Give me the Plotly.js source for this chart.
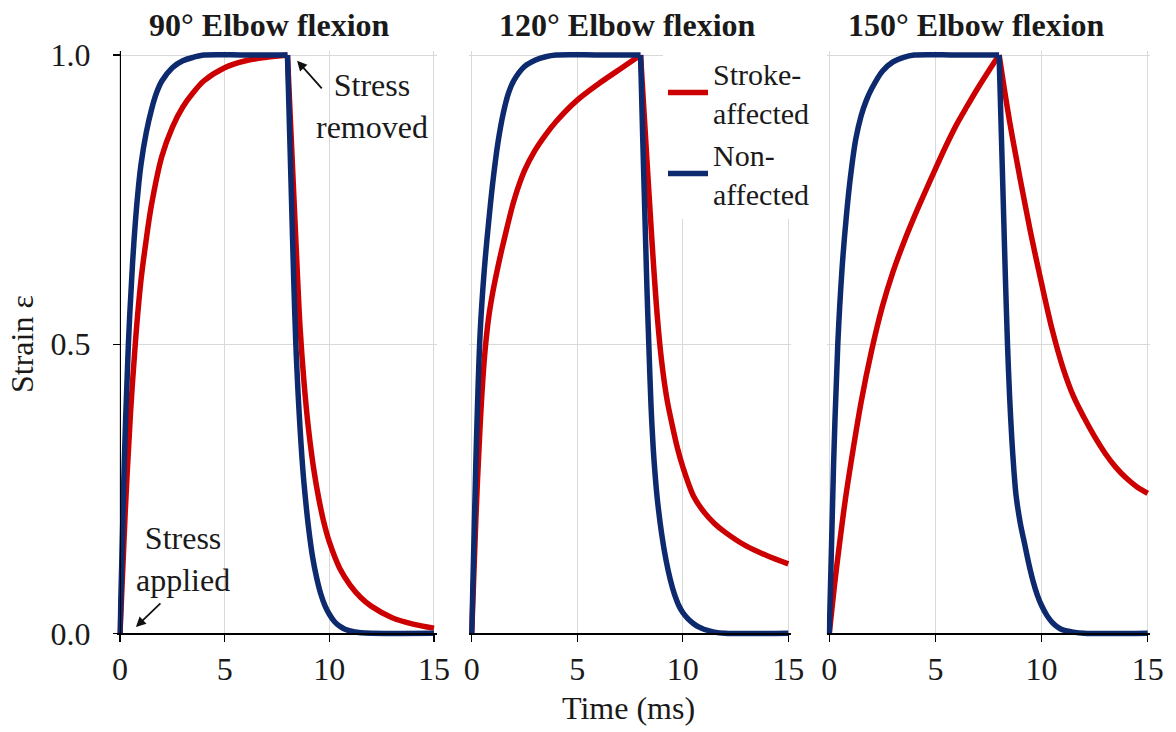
<!DOCTYPE html>
<html>
<head>
<meta charset="utf-8">
<script src="https://cdn.plot.ly/plotly-3.0.1.min.js"></script>
<style>html,body{margin:0;padding:0;background:#fff;}#chart{width:1176px;height:732px;}</style>
</head>
<body>
<div id="chart"></div>
<script>
// ---------------- DATA ----------------
const panelTitles = ['90° Elbow flexion', '120° Elbow flexion', '150° Elbow flexion'];
const seriesNames = ['Stroke-<br>affected', 'Non-<br>affected'];
const xTickVals = [0, 5, 10, 15];
const yTickVals = [0, 0.5, 1];
const yTickText = ['0.0', '0.5', '1.0'];
const stressOff = 8; // ms, stress removed

// 90° panel
const t90Stroke = [0, 0.25, 0.5, 0.75, 1.0, 1.25, 1.5, 2.0, 2.5, 3.0, 3.5, 4.0, 5.0, 6.0, 7.0, 8.0,
                   8.2, 8.4, 8.6, 8.8, 9.0, 9.25, 9.5, 9.75, 10.0, 10.5, 11.0, 11.5, 12.0, 13.0, 14.0, 15.0];
const v90Stroke = [0, 0.21, 0.38, 0.51, 0.61, 0.68, 0.74, 0.825, 0.875, 0.91, 0.935, 0.955, 0.978, 0.99, 0.996, 1.0,
                   0.84, 0.68, 0.53, 0.43, 0.355, 0.285, 0.232, 0.19, 0.158, 0.112, 0.083, 0.062, 0.047, 0.027, 0.016, 0.009];
const t90Non = [0, 0.2, 0.4, 0.6, 0.8, 1.0, 1.25, 1.5, 1.75, 2.0, 2.5, 3.0, 3.5, 4.0, 6.0, 8.0,
                8.1, 8.2, 8.3, 8.4, 8.5, 8.6, 8.7, 8.8, 9.0, 9.2, 9.4, 9.6, 9.8, 10.0, 10.25, 10.5, 10.75, 11.0, 11.5, 12.0, 15.0];
const v90Non = [0, 0.29, 0.5, 0.64, 0.74, 0.81, 0.865, 0.905, 0.935, 0.955, 0.978, 0.99, 0.996, 1.0, 1.0, 1.0,
                0.87, 0.74, 0.61, 0.5, 0.42, 0.355, 0.3, 0.255, 0.185, 0.132, 0.095, 0.067, 0.047, 0.033, 0.02, 0.012, 0.007, 0.004, 0.001, 0, 0];

// 120° panel
const t120Stroke = [0, 0.2, 0.4, 0.6, 0.8, 1.0, 1.25, 1.5, 2.0, 2.5, 3.0, 3.5, 4.0, 5.0, 6.0, 7.0, 8.0,
                    8.2, 8.4, 8.6, 8.8, 9.0, 9.25, 9.5, 9.75, 10.0, 10.5, 11.0, 11.5, 12.0, 13.0, 14.0, 15.0];
const v120Stroke = [0, 0.2, 0.36, 0.475, 0.545, 0.59, 0.635, 0.675, 0.748, 0.8, 0.835, 0.862, 0.885, 0.922, 0.95, 0.975, 1.0,
                    0.88, 0.76, 0.645, 0.545, 0.47, 0.405, 0.36, 0.32, 0.288, 0.238, 0.21, 0.19, 0.175, 0.151, 0.134, 0.12];
const t120Non = [0, 0.2, 0.4, 0.6, 0.8, 1.0, 1.25, 1.5, 1.75, 2.0, 2.5, 3.0, 3.5, 4.0, 6.0, 8.0,
                 8.1, 8.2, 8.3, 8.4, 8.5, 8.6, 8.7, 8.8, 9.0, 9.2, 9.4, 9.6, 9.8, 10.0, 10.25, 10.5, 10.75, 11.0, 11.5, 12.0, 15.0];
const v120Non = [0, 0.3, 0.52, 0.63, 0.71, 0.78, 0.85, 0.9, 0.935, 0.956, 0.98, 0.991, 0.997, 1.0, 1.0, 1.0,
                 0.86, 0.73, 0.6, 0.49, 0.39, 0.32, 0.27, 0.23, 0.172, 0.128, 0.094, 0.068, 0.049, 0.036, 0.025, 0.017, 0.011, 0.007, 0.002, 0, 0];

// 150° panel
const t150Stroke = [0, 0.25, 0.5, 0.75, 1.0, 1.5, 2.0, 2.5, 3.0, 3.5, 4.0, 4.5, 5.0, 5.5, 6.0, 6.5, 7.0, 7.5, 8.0,
                    8.25, 8.5, 8.75, 9.0, 9.5, 10.0, 10.5, 11.0, 11.5, 12.0, 12.5, 13.0, 13.5, 14.0, 14.5, 15.0];
const v150Stroke = [0, 0.085, 0.16, 0.23, 0.29, 0.4, 0.49, 0.565, 0.625, 0.675, 0.72, 0.762, 0.803, 0.843, 0.88, 0.912, 0.943, 0.972, 1.0,
                    0.94, 0.884, 0.833, 0.784, 0.69, 0.605, 0.525, 0.46, 0.41, 0.373, 0.34, 0.311, 0.287, 0.268, 0.253, 0.242];
const t150Non = [0, 0.2, 0.4, 0.6, 0.8, 1.0, 1.25, 1.5, 1.75, 2.0, 2.5, 3.0, 3.5, 4.0, 6.0, 8.0,
                 8.1, 8.2, 8.3, 8.4, 8.5, 8.6, 8.7, 8.8, 9.0, 9.2, 9.4, 9.6, 9.8, 10.0, 10.25, 10.5, 10.75, 11.0, 11.5, 12.0, 15.0];
const v150Non = [0, 0.29, 0.5, 0.63, 0.72, 0.79, 0.855, 0.895, 0.922, 0.942, 0.972, 0.988, 0.996, 1.0, 1.0, 1.0,
                 0.87, 0.74, 0.61, 0.495, 0.405, 0.335, 0.28, 0.238, 0.19, 0.155, 0.12, 0.09, 0.066, 0.048, 0.031, 0.019, 0.011, 0.006, 0.002, 0, 0];

// ---------------- STYLE / LAYOUT ----------------
const W = 1176, H = 732;
const FONT = 'Liberation Serif, Times New Roman, serif';
const TXT = '#1a1a1a';
const COLORS = ['#CC0000', '#0E2A6E'];
const GRID = '#d9d9d9';
const px2x = p => p / W;
const py2y = p => 1 - p / H;

// pixel positions of t=0 / t=15 for each panel, and of strain 0 / 1
const panelPix = [[120, 434], [471.7, 788.3], [829.3, 1147.7]];
const yPix0 = 633.3, yPix1 = 55;
const XR = [-0.12, 15.12], YR = [-0.007, 1.007];

const panelData = [
  [[t90Stroke, v90Stroke], [t90Non, v90Non]],
  [[t120Stroke, v120Stroke], [t120Non, v120Non]],
  [[t150Stroke, v150Stroke], [t150Non, v150Non]]
];

const traces = [];
panelData.forEach((pd, pi) => {
  const sfx = pi === 0 ? '' : String(pi + 1);
  pd.forEach((ser, si) => {
    const [t, v] = ser;
    const k = t.indexOf(stressOff);
    const parts = [[t.slice(0, k + 1), v.slice(0, k + 1)], [t.slice(k), v.slice(k)]];
    parts.forEach((pt, j) => {
      traces.push({
        x: pt[0], y: pt[1], type: 'scatter', mode: 'lines',
        xaxis: 'x' + sfx, yaxis: 'y' + sfx,
        name: seriesNames[si], legendgroup: 'g' + si,
        showlegend: pi === 0 && j === 0,
        line: {color: COLORS[si], width: 5.5, shape: 'spline', smoothing: 0.9},
        hoverinfo: 'skip'
      });
    });
  });
});

const FS = 32;
const layout = {
  width: W, height: H,
  margin: {l: 0, r: 0, t: 0, b: 0},
  paper_bgcolor: '#fff', plot_bgcolor: 'rgba(0,0,0,0)',
  font: {family: FONT, color: TXT, size: FS},
  showlegend: true,
  legend: {
    x: px2x(663), y: py2y(47), xanchor: 'left', yanchor: 'top',
    bgcolor: '#fff', borderwidth: 0,
    font: {family: FONT, size: 30, color: TXT},
    itemwidth: 40, tracegroupgap: 0, valign: 'middle'
  },
  annotations: []
};

const yDomTop = yPix0 + (YR[1]) * (yPix1 - yPix0);
const yDomBot = yPix0 + (YR[0]) * (yPix1 - yPix0);
const yDomain = [py2y(yDomBot), py2y(yDomTop)];

panelPix.forEach((pp, pi) => {
  const sfx = pi === 0 ? '' : String(pi + 1);
  const sc = (pp[1] - pp[0]) / 15;
  const xd = [px2x(pp[0] + XR[0] * sc), px2x(pp[0] + XR[1] * sc)];
  layout['xaxis' + sfx] = {
    domain: xd, range: XR, anchor: 'free', position: py2y(yPix0),
    tickvals: xTickVals, ticks: 'outside', ticklen: 7, tickwidth: 1.2, tickcolor: '#000',
    showline: true, linecolor: '#000', linewidth: 1.3,
    showgrid: true, gridcolor: GRID, gridwidth: 1, zeroline: false,
    tickfont: {family: FONT, size: FS, color: TXT}, ticklabelstandoff: 0,
    fixedrange: true
  };
  const ya = {
    domain: yDomain, range: YR,
    tickvals: yTickVals, ticktext: yTickText,
    showgrid: true, gridcolor: GRID, gridwidth: 1, zeroline: false,
    fixedrange: true
  };
  if (pi === 0) {
    Object.assign(ya, {
      anchor: 'free', position: px2x(pp[0]),
      showline: true, linecolor: '#000', linewidth: 1.3,
      ticks: 'outside', ticklen: 7, tickwidth: 1.2, tickcolor: '#000',
      tickfont: {family: FONT, size: FS, color: TXT}, ticklabelstandoff: 16
    });
  } else {
    Object.assign(ya, {anchor: 'x' + sfx, showticklabels: false, ticks: ''});
  }
  layout['yaxis' + sfx] = ya;
});

// panel titles
const titleCenters = [269, 627, 977];
panelTitles.forEach((tt, i) => {
  layout.annotations.push({
    text: '<b>' + tt + '</b>', xref: 'paper', yref: 'paper',
    x: px2x(titleCenters[i]), y: py2y(25), xanchor: 'center', yanchor: 'middle',
    showarrow: false, font: {family: FONT, size: FS, color: TXT}
  });
});
// axis titles
layout.annotations.push({
  text: 'Strain ε', xref: 'paper', yref: 'paper', x: px2x(22), y: py2y(344),
  xanchor: 'center', yanchor: 'middle', textangle: -90, showarrow: false,
  font: {family: FONT, size: FS, color: TXT}
});
layout.annotations.push({
  text: 'Time (ms)', xref: 'paper', yref: 'paper', x: px2x(628), y: py2y(708),
  xanchor: 'center', yanchor: 'middle', showarrow: false,
  font: {family: FONT, size: FS, color: TXT}
});
// callouts
layout.annotations.push({
  text: 'Stress<br>removed', xref: 'paper', yref: 'paper', x: px2x(372), y: py2y(106),
  xanchor: 'center', yanchor: 'middle', showarrow: false, align: 'center',
  font: {family: FONT, size: FS, color: TXT}
});
layout.annotations.push({
  text: '', xref: 'x', yref: 'y', x: 8.46, y: 0.99, ax: 26, ay: 29,
  showarrow: true, arrowhead: 2, arrowsize: 1.1, arrowwidth: 1.8, arrowcolor: '#111'
});
layout.annotations.push({
  text: 'Stress<br>applied', xref: 'paper', yref: 'paper', x: px2x(183), y: py2y(559),
  xanchor: 'center', yanchor: 'middle', showarrow: false, align: 'center',
  font: {family: FONT, size: FS, color: TXT}
});
layout.annotations.push({
  text: '', xref: 'x', yref: 'y', x: 0.76, y: 0.011, ax: 26, ay: -25,
  showarrow: true, arrowhead: 2, arrowsize: 1.1, arrowwidth: 1.8, arrowcolor: '#111'
});

Plotly.newPlot('chart', traces, layout, {displayModeBar: false, staticPlot: true});
</script>
</body>
</html>
